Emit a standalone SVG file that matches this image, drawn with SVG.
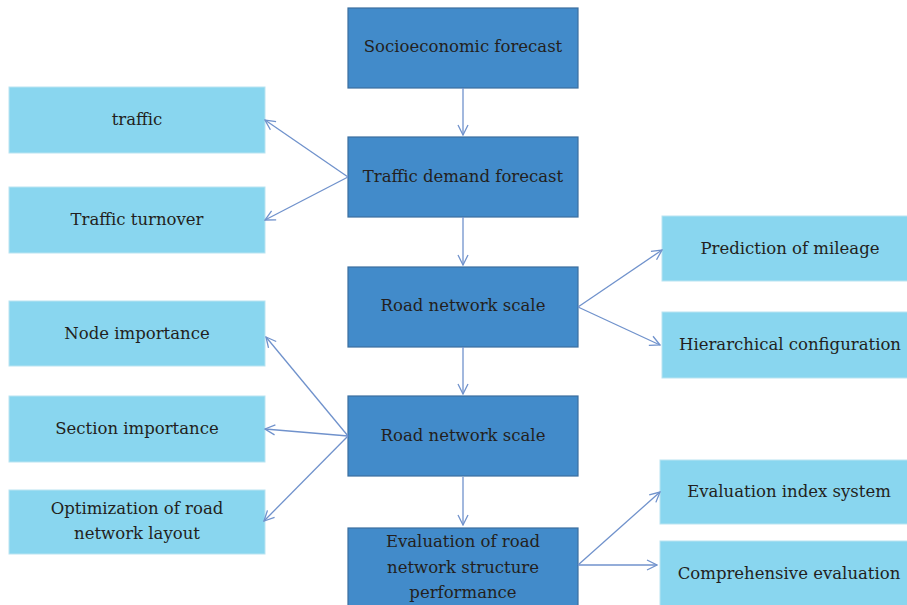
<svg xmlns="http://www.w3.org/2000/svg" width="907" height="605" viewBox="0 0 907 605">
<style>
.dark{fill:#428bca;stroke:#3b6e9e;stroke-width:1.2}
.light{fill:#89d6ef;stroke:#b9e4f1;stroke-width:1}
text{font-family:"DejaVu Serif",serif;font-size:16.5px;fill:#231f20;text-anchor:middle}
.c path{fill:none;stroke:#7092cc;stroke-width:1.3}
</style>
<defs>
<marker id="ah" viewBox="0 0 12 12" refX="11" refY="6" markerWidth="12" markerHeight="12" markerUnits="userSpaceOnUse" orient="auto">
<path d="M1,1 L11,6 L1,11" fill="none" stroke="#7092cc" stroke-width="1.3"/>
</marker>
</defs>
<rect width="907" height="605" fill="#fff"/>
<g id="n1"><rect class="dark" x="348" y="8" width="230" height="80"/><text x="463" y="52">Socioeconomic forecast</text></g>
<g id="n2"><rect class="dark" x="348" y="137" width="230" height="80"/><text x="463" y="182">Traffic demand forecast</text></g>
<g id="n3"><rect class="dark" x="348" y="267" width="230" height="80"/><text x="463" y="311">Road network scale</text></g>
<g id="n4"><rect class="dark" x="348" y="396" width="230" height="80"/><text x="463" y="441">Road network scale</text></g>
<g id="n5"><rect class="dark" x="348" y="528" width="230" height="80"/><text x="463" y="547">Evaluation of road</text><text x="463" y="573">network structure</text><text x="463" y="598">performance</text></g>
<g id="l1"><rect class="light" x="9" y="87" width="256" height="66"/><text x="137" y="125">traffic</text></g>
<g id="l2"><rect class="light" x="9" y="187" width="256" height="66"/><text x="137" y="225">Traffic turnover</text></g>
<g id="l3"><rect class="light" x="9" y="301" width="256" height="65"/><text x="137" y="339">Node importance</text></g>
<g id="l4"><rect class="light" x="9" y="396" width="256" height="66"/><text x="137" y="434">Section importance</text></g>
<g id="l5"><rect class="light" x="9" y="490" width="256" height="64"/><text x="137" y="514">Optimization of road</text><text x="137" y="539">network layout</text></g>
<g id="r1"><rect class="light" x="662" y="216" width="250" height="65"/><text x="790" y="254">Prediction of mileage</text></g>
<g id="r2"><rect class="light" x="662" y="312" width="250" height="66"/><text x="790" y="350">Hierarchical configuration</text></g>
<g id="r3"><rect class="light" x="660" y="460" width="252" height="64"/><text x="789" y="497">Evaluation index system</text></g>
<g id="r4"><rect class="light" x="660" y="541" width="252" height="70"/><text x="789" y="579">Comprehensive evaluation</text></g>
<g class="c" id="connectors">
<path d="M463,88 L463,135" marker-end="url(#ah)"/>
<path d="M463,217 L463,265" marker-end="url(#ah)"/>
<path d="M463,347 L463,394" marker-end="url(#ah)"/>
<path d="M463,477 L463,525" marker-end="url(#ah)"/>
<path d="M348,177 L265,120" marker-end="url(#ah)"/>
<path d="M348,177 L265,220" marker-end="url(#ah)"/>
<path d="M578,307 L662,250" marker-end="url(#ah)"/>
<path d="M578,307 L660,345" marker-end="url(#ah)"/>
<path d="M348,436 L266,337" marker-end="url(#ah)"/>
<path d="M348,436 L265,429" marker-end="url(#ah)"/>
<path d="M348,436 L264,521" marker-end="url(#ah)"/>
<path d="M578,565 L660,492" marker-end="url(#ah)"/>
<path d="M578,565 L657,565" marker-end="url(#ah)"/>
</g>
</svg>
